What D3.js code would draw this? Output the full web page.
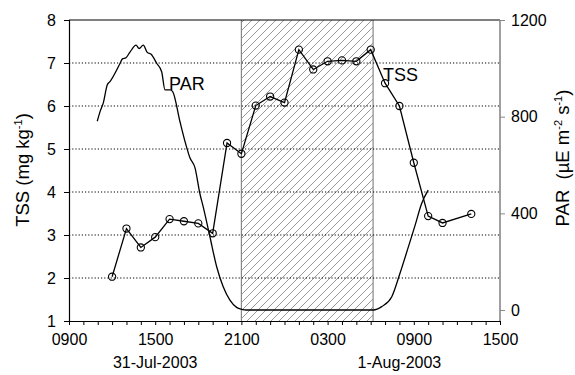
<!DOCTYPE html>
<html>
<head>
<meta charset="utf-8">
<script src="https://cdn.jsdelivr.net/npm/d3@7"></script>
<style>
  html, body { margin: 0; padding: 0; background: #fff; }
  svg { display: block; font-family: "Liberation Sans", Arial, sans-serif; }
</style>
</head>
<body>
<svg id="chart" width="575" height="375"></svg>
<script>
// ---- data ----
const tssTimes = ["07-31 12:00","07-31 13:00","07-31 14:00","07-31 15:00","07-31 16:00","07-31 17:00",
  "07-31 18:00","07-31 19:00","07-31 20:00","07-31 21:00","07-31 22:00","07-31 23:00",
  "08-01 00:00","08-01 01:00","08-01 02:00","08-01 03:00","08-01 04:00","08-01 05:00",
  "08-01 06:00","08-01 07:00","08-01 08:00","08-01 09:00","08-01 10:00","08-01 11:00","08-01 13:00"];
const tssValues = [2.03,3.15,2.71,2.95,3.37,3.32,3.27,3.04,5.14,4.89,6.01,6.22,
  6.08,7.31,6.85,7.04,7.06,7.04,7.31,6.53,6.00,4.68,3.44,3.28,3.49];

const parTimes = ["07-31 10:58","07-31 11:10","07-31 11:23","07-31 11:40","07-31 11:51","07-31 12:33",
  "07-31 12:43","07-31 12:58","07-31 13:14","07-31 13:40","07-31 13:53","07-31 14:10","07-31 14:27",
  "07-31 14:43","07-31 15:06","07-31 15:27","07-31 15:41","07-31 16:02","07-31 16:13","07-31 16:43",
  "07-31 17:04","07-31 17:25","07-31 17:46","07-31 18:07","07-31 18:21","07-31 18:49","07-31 19:17",
  "07-31 19:44","07-31 20:12","07-31 20:40","07-31 21:01","07-31 21:20","08-01 06:11","08-01 06:46",
  "08-01 07:28","08-01 08:02","08-01 08:37","08-01 09:05","08-01 09:32","08-01 10:00"];
const parValues = [781,822,856,932,945,1020,1039,1044,1066,1096,1082,1096,1066,
  1058,1021,986,911,911,904,781,699,630,589,480,425,301,178,
  96,41,11,3,0,0,14,55,151,260,349,439,496];

const nightStart = "07-31 21:00";
const nightEnd = "08-01 06:10";
const xDomain = ["07-31 09:00", "08-01 15:00"];
const tssTicks = [1,2,3,4,5,6,7,8];
const tssGrid = [2,3,4,5,6,7];
const parTicks = [0,400,800,1200];
const dateLabels = [{t: "07-31 15:00", label: "31-Jul-2003"}, {t: "08-01 08:00", label: "1-Aug-2003"}];

// ---- setup ----
const parse = d3.timeParse("%Y-%m-%d %H:%M");
const P = s => parse("2003-" + s);
const svg = d3.select("#chart");
const L = 69, R = 500, T = 20, B = 321;

const x = d3.scaleTime().domain(xDomain.map(P)).range([L, R]);
const yT = d3.scaleLinear().domain([1, 8]).range([B, T]);
const yP = d3.scaleLinear().domain([0, 1200]).range([310, T]);

const defs = svg.append("defs");
const pat = defs.append("pattern").attr("id", "hatch").attr("patternUnits", "userSpaceOnUse")
  .attr("width", 8).attr("height", 8);
pat.append("path").attr("d", "M-2,2 L2,-2 M0,8 L8,0 M6,10 L10,6")
  .attr("stroke", "#999").attr("stroke-width", 1).attr("fill", "none");

// night hatch
const nx0 = x(P(nightStart)), nx1 = x(P(nightEnd));
svg.append("rect").attr("x", nx0).attr("y", T).attr("width", nx1 - nx0).attr("height", B - T)
  .attr("fill", "url(#hatch)");
svg.append("line").attr("x1", nx0).attr("x2", nx0).attr("y1", T).attr("y2", B).attr("stroke", "#888").attr("stroke-width", 1.2);
svg.append("line").attr("x1", nx1).attr("x2", nx1).attr("y1", T).attr("y2", B).attr("stroke", "#888").attr("stroke-width", 1.2);

// gridlines
svg.append("g").selectAll("line").data(tssGrid).join("line")
  .attr("x1", L).attr("x2", R).attr("y1", d => yT(d)).attr("y2", d => yT(d))
  .attr("stroke", "#000").attr("stroke-width", 1).attr("stroke-dasharray", "1.2,2");

// top frame
svg.append("line").attr("x1", L).attr("x2", R).attr("y1", T).attr("y2", T).attr("stroke", "#000").attr("stroke-width", 1);

// PAR line
const parData = parTimes.map((t, i) => ({t: P(t), v: parValues[i]}));
svg.append("path").datum(parData)
  .attr("d", d3.line().x(d => x(d.t)).y(d => yP(d.v)).curve(d3.curveMonotoneX))
  .attr("fill", "none").attr("stroke", "#000").attr("stroke-width", 1.3);

// TSS line and markers
const tssData = tssTimes.map((t, i) => ({t: P(t), v: tssValues[i]}));
svg.append("path").datum(tssData)
  .attr("d", d3.line().x(d => x(d.t)).y(d => yT(d.v)))
  .attr("fill", "none").attr("stroke", "#000").attr("stroke-width", 1.3);
svg.append("g").selectAll("circle").data(tssData).join("circle")
  .attr("cx", d => x(d.t)).attr("cy", d => yT(d.v)).attr("r", 3.6)
  .attr("fill", "none").attr("stroke", "#000").attr("stroke-width", 1.1);

// axes
const fs = "16px";
const xAxis = d3.axisBottom(x).ticks(d3.timeHour.every(1)).tickSize(4).tickPadding(9)
  .tickFormat(d => d.getHours() % 6 === 3 ? d3.timeFormat("%H%M")(d) : "");
const gx = svg.append("g").attr("transform", `translate(0,${B})`).call(xAxis);
gx.select(".domain").attr("d", `M${L - 5},0.5H${R}`).attr("stroke", "#000").attr("stroke-width", 1.2);
gx.selectAll(".tick line").attr("stroke", "#000");
gx.selectAll("text").attr("font-size", fs).attr("font-family", "Liberation Sans, Arial, sans-serif").attr("fill", "#000");

const gyl = svg.append("g").attr("transform", `translate(${L},0)`)
  .call(d3.axisLeft(yT).tickValues(tssTicks).tickSize(5).tickPadding(8).tickFormat(d3.format("d")));
gyl.select(".domain").attr("d", `M0.5,${T}V${B}`).attr("stroke", "#000").attr("stroke-width", 1.2);
gyl.selectAll("text").attr("font-size", fs).attr("font-family", "Liberation Sans, Arial, sans-serif").attr("fill", "#000");

const gyr = svg.append("g").attr("transform", `translate(${R},0)`)
  .call(d3.axisRight(yP).tickValues(parTicks).tickSize(5).tickPadding(6).tickFormat(d3.format("d")));
gyr.select(".domain").attr("d", `M0,${T}V${B}`).attr("stroke", "#888").attr("stroke-width", 1.6);
gyr.selectAll(".tick line").attr("stroke", "#888");
gyr.selectAll("text").attr("font-size", fs).attr("font-family", "Liberation Sans, Arial, sans-serif").attr("fill", "#000");

// date labels
svg.append("g").selectAll("text").data(dateLabels).join("text")
  .attr("x", d => x(P(d.t))).attr("y", 368).attr("text-anchor", "middle")
  .attr("font-size", fs).text(d => d.label);

// series labels
svg.append("text").attr("x", 169).attr("y", 90).attr("font-size", "18px").text("PAR");
svg.append("text").attr("x", 383).attr("y", 81).attr("font-size", "18px").text("TSS");

// axis titles
const lt = svg.append("text").attr("transform", "translate(29,170) rotate(-90)")
  .attr("text-anchor", "middle").attr("font-size", "18.5px");
lt.append("tspan").text("TSS (mg kg");
lt.append("tspan").attr("font-size", "11px").attr("dy", -7).text("-1");
lt.append("tspan").attr("dy", 7).text(")");

const rt = svg.append("text").attr("transform", "translate(569,158) rotate(-90)")
  .attr("text-anchor", "middle").attr("font-size", "18.5px");
rt.append("tspan").text("PAR  (\u00b5E m");
rt.append("tspan").attr("font-size", "11px").attr("dy", -7).text("-2");
rt.append("tspan").attr("dy", 7).text(" s");
rt.append("tspan").attr("font-size", "11px").attr("dy", -7).text("-1");
rt.append("tspan").attr("dy", 7).text(")");
rt.attr("xml:space", "preserve").style("white-space", "pre");
</script>
</body>
</html>
